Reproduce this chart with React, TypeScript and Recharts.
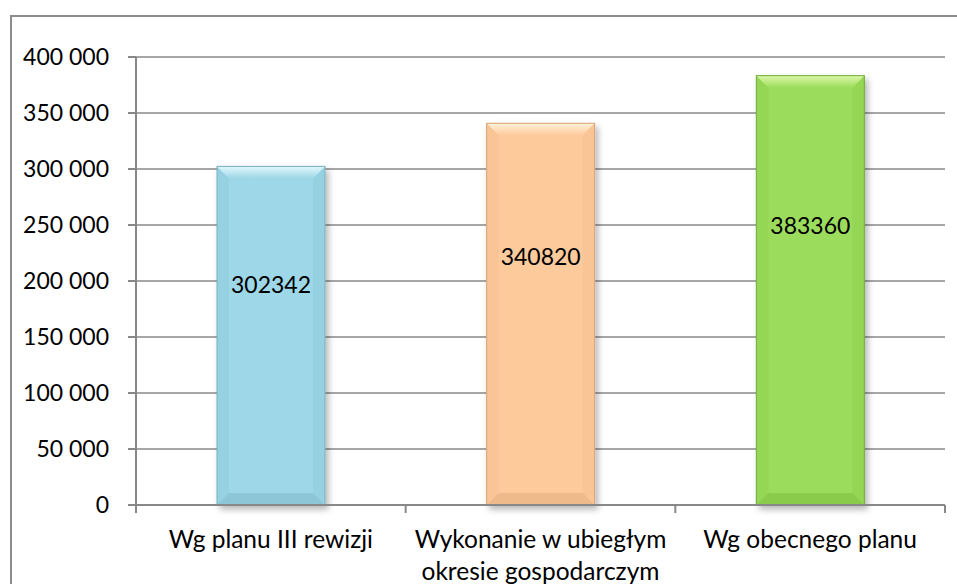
import { BarChart, Bar, XAxis, YAxis, CartesianGrid, Cell, LabelList } from "recharts";

const categories = ["Wg planu III rewizji", "Wykonanie w ubiegłym okresie gospodarczym", "Wg obecnego planu"];
const values = [302342, 340820, 383360];
const yTicks = [0, 50000, 100000, 150000, 200000, 250000, 300000, 350000, 400000];

// main / light top / side / dark bottom / edge
const palette = [
  { main: "#9dd7e8", light: "#e2f7fc", side: "#96d1e2", dark: "#8cc6d7", edge: "#78afbf" },
  { main: "#fdca9c", light: "#fff4da", side: "#f9c597", dark: "#eeb98b", edge: "#d9a274" },
  { main: "#9cdc5c", light: "#dcf8a8", side: "#95d655", dark: "#8acb4c", edge: "#71ad3a" },
];

const data = categories.map((name, i) => ({ name, value: values[i] }));

const FONT = "Lato, 'Open Sans', sans-serif";
const W = 957;
const H = 584;
const PLOT_LEFT = 136;
const PLOT_RIGHT = 945;
const BAND = (PLOT_RIGHT - PLOT_LEFT) / categories.length;
const GRAY = "#888888";
const CAT_SIZE = 24.5;
const MAX_CHARS = 22;

const fmt = (v: number) => v.toLocaleString("en-US").replace(/,/g, " ");

// greedy word wrap by character budget
const wrap = (s: string) => {
  const lines: string[] = [];
  let cur = "";
  s.split(" ").forEach((w) => {
    const next = cur ? cur + " " + w : w;
    if (next.length > MAX_CHARS && cur) {
      lines.push(cur);
      cur = w;
    } else cur = next;
  });
  if (cur) lines.push(cur);
  return lines;
};

const BevelBar = (props: any) => {
  const { x, y, width: w, height: h, index } = props;
  const c = palette[index];
  const b = 12;
  return (
    <g filter="url(#barShadow)">
      <rect x={x} y={y} width={w} height={h} fill={c.main} />
      <polygon points={`${x},${y} ${x + b},${y + b} ${x + b},${y + h - b} ${x},${y + h}`} fill={c.side} />
      <polygon points={`${x + w},${y} ${x + w - b},${y + b} ${x + w - b},${y + h - b} ${x + w},${y + h}`} fill={c.side} />
      <polygon points={`${x},${y} ${x + w},${y} ${x + w - b},${y + b} ${x + b},${y + b}`} fill={`url(#top${index})`} />
      <polygon points={`${x},${y + h} ${x + w},${y + h} ${x + w - b},${y + h - b} ${x + b},${y + h - b}`} fill={c.dark} />
      <rect x={x} y={y} width={w} height={h} fill="none" stroke={c.edge} strokeWidth={1} />
    </g>
  );
};

const InnerLabel = (props: any) => {
  const { x, y, width, height, value } = props;
  return (
    <text x={x + width / 2} y={y + height * 0.347} textAnchor="middle" dominantBaseline="central" fontFamily={FONT} fontSize={23} fill="#000">
      {value}
    </text>
  );
};

const CategoryTick = (props: any) => {
  const { x, y, payload, index } = props;
  const last = index === categories.length - 1;
  const lines = wrap(String(payload.value));
  return (
    <g>
      <line x1={x - BAND / 2} x2={x - BAND / 2} y1={y} y2={y + 8} stroke={GRAY} strokeWidth={2} />
      {last && <line x1={x + BAND / 2} x2={x + BAND / 2} y1={y} y2={y + 8} stroke={GRAY} strokeWidth={2} />}
      <text x={x} y={y + 43} textAnchor="middle" fontFamily={FONT} fontSize={CAT_SIZE} fill="#000">
        {lines.map((l, i) => (
          <tspan key={i} x={x} dy={i === 0 ? 0 : 32}>
            {l}
          </tspan>
        ))}
      </text>
    </g>
  );
};

export default function App() {
  return (
    <div style={{ position: "absolute", left: 0, top: 0, width: W, height: H, background: "#fff", overflow: "hidden" }}>
      <div style={{ position: "absolute", left: 10, top: 15, width: 980, height: 620, border: "2px solid #8c8c8c", boxSizing: "border-box" }} />
      <div style={{ position: "absolute", left: 0, top: 0 }}>
        <BarChart width={W} height={H} data={data} margin={{ top: 57, right: W - PLOT_RIGHT, bottom: 0, left: 10 }}>
          <defs>
            <filter id="barShadow" x="-20%" y="-10%" width="150%" height="130%">
              <feDropShadow dx={3} dy={4} stdDeviation={3} floodColor="#000" floodOpacity={0.28} />
            </filter>
            {palette.map((c, i) => (
              <linearGradient key={i} id={`top${i}`} x1="0" y1="0" x2="0" y2="1">
                <stop offset="0%" stopColor={c.light} />
                <stop offset="100%" stopColor={c.main} />
              </linearGradient>
            ))}
          </defs>
          <CartesianGrid vertical={false} stroke={GRAY} strokeWidth={1.5} />
          <YAxis
            width={126}
            domain={[0, 400000]}
            ticks={yTicks}
            tickFormatter={fmt}
            axisLine={{ stroke: GRAY, strokeWidth: 2 }}
            tickLine={{ stroke: GRAY, strokeWidth: 2 }}
            tickSize={8}
            tickMargin={19}
            tick={{ fontFamily: FONT, fontSize: 23, fill: "#000" }}
            interval={0}
          />
          <XAxis
            dataKey="name"
            height={H - 505}
            axisLine={{ stroke: GRAY, strokeWidth: 2 }}
            tickLine={false}
            tickSize={0}
            tickMargin={0}
            interval={0}
            tick={<CategoryTick />}
          />
          <Bar dataKey="value" barSize={108} shape={<BevelBar />} isAnimationActive={false}>
            {data.map((d, i) => (
              <Cell key={d.name} fill={palette[i].main} />
            ))}
            <LabelList dataKey="value" content={<InnerLabel />} />
          </Bar>
        </BarChart>
      </div>
    </div>
  );
}
